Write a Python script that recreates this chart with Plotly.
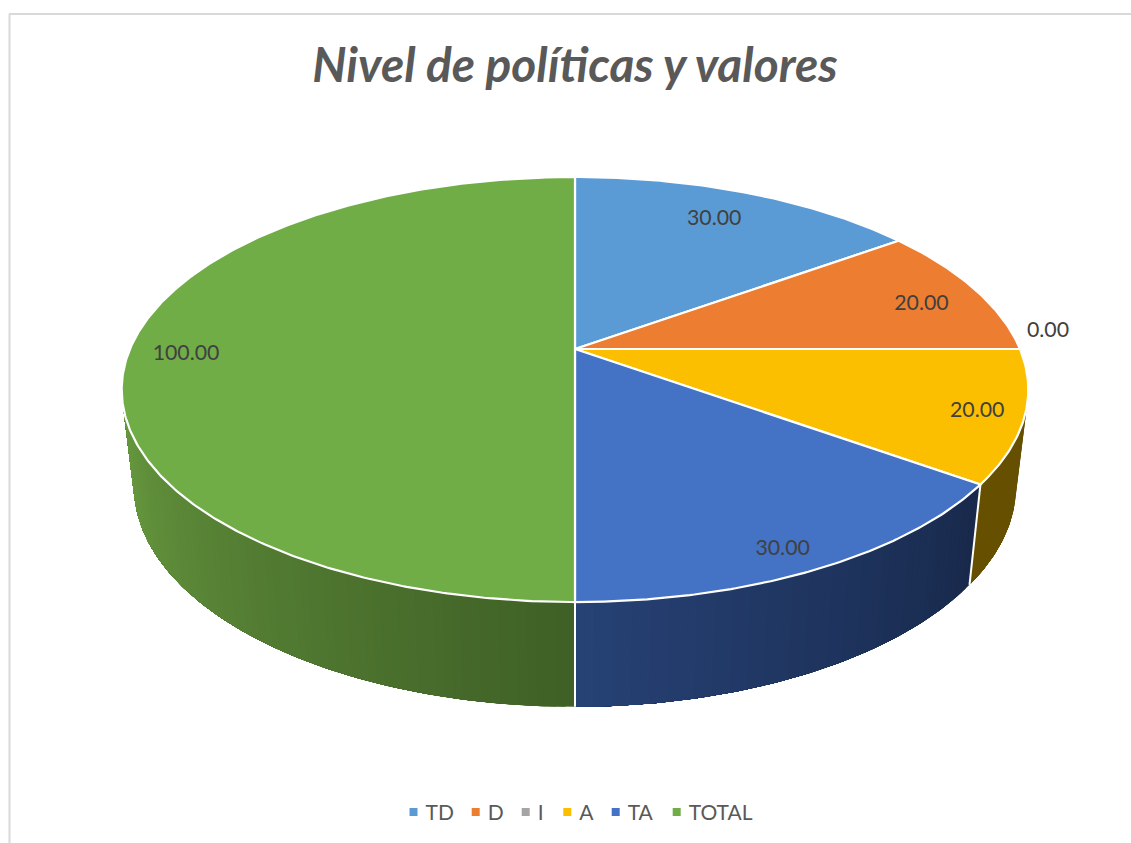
import numpy as np
import plotly.graph_objects as go

# ---- data ----
categories = ["TD", "D", "I", "A", "TA", "TOTAL"]
values = [30.0, 20.0, 0.0, 20.0, 30.0, 100.0]
top_colors = ["#5B9BD5", "#ED7D31", "#A5A5A5", "#FCBF00", "#4472C4", "#70AD47"]
# wall shading: colour at the clockwise start and end of each visible wall
wall_start = {"A": "#665000", "TA": "#18294B", "TOTAL": "#3F6026"}
wall_end = {"A": "#665000", "TA": "#264174", "TOTAL": "#67993F"}

# ---- label placement (fraction of radius, vertical nudge in px) ----
label_radius = [0.78, 0.86, 1.063, 0.90, 0.875, 0.874]
label_nudge = [-4, 7, -17, 3, 13, 6]

# ---- legend placement (px) ----
legend_x = [413.5, 475.7, 525.7, 567.3, 615.7, 676.7]
LEGEND_Y = 812
LEGEND_TEXT_GAP = 12

# ---- perspective disc geometry ----
CX = 575
TOP_Y, TOP_A, TOP_B = 349, 204.8, 445
BOT_Y, BOT_A, BOT_B = 444, 212.7, 433
K = -0.1906
SILHOUETTE = 104.5


def project(theta_deg, r, cy, a, b):
    t = np.radians(theta_deg)
    u, v = r * np.sin(t), -r * np.cos(t)
    w = 1 + K * v
    return CX + b * u / w, cy + a * v / w


def top(theta, r=1.0):
    return project(theta, r, TOP_Y, TOP_A, TOP_B)


def bottom(theta, r=1.0):
    return project(theta, r, BOT_Y, BOT_A, BOT_B)


def mix(c0, c1, f):
    p = [int(c0[i:i + 2], 16) for i in (1, 3, 5)]
    q = [int(c1[i:i + 2], 16) for i in (1, 3, 5)]
    return "rgb(%d,%d,%d)" % tuple(round(x + (y - x) * f) for x, y in zip(p, q))


total = sum(values)
edges = np.concatenate([[0], np.cumsum(values)]) / total * 360

fig = go.Figure()

# walls: overlapping shaded bands, painted from the start of the wall onward
for name, lo, hi in zip(categories, edges[:-1], edges[1:]):
    if name not in wall_start:
        continue
    lo = max(lo, SILHOUETTE)
    hi = min(hi, 360 - SILHOUETTE)
    n = max(2, int((hi - lo) / 1.0))
    steps = np.linspace(lo, hi, n + 1)
    for i in range(n):
        th = np.linspace(steps[i], hi, max(4, (n - i) * 2))
        xt, yt = top(th)
        xb, yb = bottom(th[::-1])
        col = mix(wall_start[name], wall_end[name], i / max(n - 1, 1))
        if name == "TA":
            # this wall darkens towards the right, i.e. towards its start
            col = mix(wall_start[name], wall_end[name], i / max(n - 1, 1))
        fig.add_trace(go.Scatter(
            x=np.concatenate([xt, xb]), y=np.concatenate([yt, yb]),
            mode="lines", fill="toself", fillcolor=col,
            line=dict(color=col, width=0),
            hoverinfo="skip", showlegend=False))

# white seams between visible walls
for e in edges[1:-1]:
    if SILHOUETTE < e < 360 - SILHOUETTE:
        xt, yt = top(e)
        xb, yb = bottom(e)
        fig.add_trace(go.Scatter(x=[xt, xb], y=[yt, yb], mode="lines",
                                 line=dict(color="white", width=2),
                                 hoverinfo="skip", showlegend=False))

# top faces
for name, val, lo, hi, col in zip(categories, values, edges[:-1], edges[1:], top_colors):
    if val > 0:
        th = np.linspace(lo, hi, max(3, int(hi - lo) * 2))
        xa, ya = top(th)
        fig.add_trace(go.Scatter(
            x=np.concatenate([[CX], xa, [CX]]),
            y=np.concatenate([[TOP_Y], ya, [TOP_Y]]),
            mode="lines", fill="toself", fillcolor=col,
            line=dict(color="white", width=2.2),
            hovertemplate=f"{name}: {val:.2f}<extra></extra>", showlegend=False))

# value labels
mids = (edges[:-1] + edges[1:]) / 2
lx, ly = top(mids, np.array(label_radius))
fig.add_trace(go.Scatter(
    x=lx, y=ly + np.array(label_nudge), mode="text",
    text=[f"{v:.2f}" for v in values],
    textfont=dict(family="Lato", size=21.3, color="#404040"),
    hoverinfo="skip", showlegend=False))

# legend row: a square and a name for each category
for name, col, x in zip(categories, top_colors, legend_x):
    fig.add_trace(go.Scatter(x=[x], y=[LEGEND_Y], mode="markers", name=name,
                             marker=dict(symbol="square", size=8, color=col),
                             hoverinfo="skip", showlegend=False))
    fig.add_trace(go.Scatter(x=[x + LEGEND_TEXT_GAP], y=[LEGEND_Y + 3], mode="text", text=[name],
                             textposition="middle right",
                             textfont=dict(family="Lato", size=21, color="#595959"),
                             hoverinfo="skip", showlegend=False))

border = dict(color="#D9D9D9", width=2)
fig.update_layout(
    width=1131, height=843, margin=dict(l=0, r=0, t=0, b=0),
    paper_bgcolor="white", plot_bgcolor="white", showlegend=False,
    title=dict(text="<b><i>Nivel de políticas y valores</i></b>",
               x=575 / 1131, xanchor="center", y=1 - 65 / 843, yanchor="middle",
               font=dict(family="Lato", size=47.8, color="#595959")),
    xaxis=dict(range=[0, 1131], visible=False, fixedrange=True),
    yaxis=dict(range=[843, 0], visible=False, fixedrange=True),
    shapes=[dict(type="line", xref="x", yref="y", x0=9.5, x1=9.5, y0=14, y1=843, line=border),
            dict(type="line", xref="x", yref="y", x0=9, x1=1131, y0=14, y1=14, line=border)],
)

fig.write_html("out.html", config={"displayModeBar": False},
               post_script="document.body.style.margin='0';")
